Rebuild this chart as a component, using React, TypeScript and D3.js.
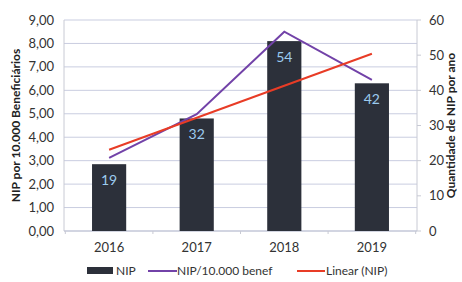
import React, { useRef, useEffect } from "react";
import { select, scaleLinear, scaleBand, line, range } from "d3";

const years = ["2016", "2017", "2018", "2019"];
const nipCount = [19, 32, 54, 42];
const nipPer10k = [3.12, 4.98, 8.5, 6.45];
const leftTicks = [0, 1, 2, 3, 4, 5, 6, 7, 8, 9];
const rightTicks = [0, 10, 20, 30, 40, 50, 60];

const FONT = "Lato, 'Open Sans', sans-serif";

const App: React.FC = () => {
  const ref = useRef<SVGSVGElement>(null);

  useEffect(() => {
    const svg = select(ref.current);
    svg.selectAll("*").remove();

    const width = 462,
      height = 282;
    const margin = { top: 20, right: 45, bottom: 51, left: 64 };
    const innerWidth = width - margin.left - margin.right;
    const innerHeight = height - margin.top - margin.bottom;

    const x = scaleBand().domain(years).range([0, innerWidth]).paddingInner(0.61).paddingOuter(0.32);
    const yLeft = scaleLinear().domain([0, 9]).range([innerHeight, 0]);
    const yRight = scaleLinear().domain([0, 60]).range([innerHeight, 0]);

    svg.append("rect").attr("width", width).attr("height", height).attr("fill", "#ffffff");

    const g = svg.append("g").attr("transform", `translate(${margin.left},${margin.top})`);

    // gridlines
    g.selectAll(".grid")
      .data(leftTicks)
      .enter()
      .append("line")
      .attr("x1", 0)
      .attr("x2", innerWidth)
      .attr("y1", (d) => yLeft(d))
      .attr("y2", (d) => yLeft(d))
      .attr("stroke", "#c9cde0")
      .attr("stroke-width", 1);

    // axis lines
    g.append("line").attr("x1", 0).attr("x2", 0).attr("y1", 0).attr("y2", innerHeight).attr("stroke", "#c8cad4");
    g.append("line").attr("x1", innerWidth).attr("x2", innerWidth).attr("y1", 0).attr("y2", innerHeight).attr("stroke", "#c8cad4");
    g.append("line").attr("x1", 0).attr("x2", innerWidth).attr("y1", innerHeight).attr("y2", innerHeight).attr("stroke", "#c0c4d4");

    // tick marks
    g.selectAll(".rtick")
      .data(rightTicks)
      .enter()
      .append("line")
      .attr("x1", innerWidth)
      .attr("x2", innerWidth + 4)
      .attr("y1", (d) => yRight(d))
      .attr("y2", (d) => yRight(d))
      .attr("stroke", "#c8cad4");
    const step = x.step();
    g.selectAll(".xtick")
      .data(range(years.length + 1))
      .enter()
      .append("line")
      .attr("x1", (i) => (x(years[0]) as number) - (step - x.bandwidth()) / 2 + i * step)
      .attr("x2", (i) => (x(years[0]) as number) - (step - x.bandwidth()) / 2 + i * step)
      .attr("y1", innerHeight)
      .attr("y2", innerHeight + 3)
      .attr("stroke", "#c8cad4");

    // left tick labels
    g.selectAll(".ltl")
      .data(leftTicks)
      .enter()
      .append("text")
      .attr("x", -10)
      .attr("y", (d) => yLeft(d))
      .attr("dy", "0.35em")
      .attr("text-anchor", "end")
      .attr("font-family", FONT)
      .attr("font-size", 13)
      .attr("fill", "#333")
      .text((d) => d.toFixed(2).replace(".", ","));

    // right tick labels
    g.selectAll(".rtl")
      .data(rightTicks)
      .enter()
      .append("text")
      .attr("x", innerWidth + 12)
      .attr("y", (d) => yRight(d))
      .attr("dy", "0.35em")
      .attr("font-family", FONT)
      .attr("font-size", 13)
      .attr("fill", "#333")
      .text((d) => d);

    // x labels
    g.selectAll(".xl")
      .data(years)
      .enter()
      .append("text")
      .attr("x", (d) => (x(d) as number) + x.bandwidth() / 2)
      .attr("y", innerHeight + 21)
      .attr("text-anchor", "middle")
      .attr("font-family", FONT)
      .attr("font-size", 13)
      .attr("fill", "#333")
      .text((d) => d);

    // bars
    g.selectAll(".bar")
      .data(nipCount)
      .enter()
      .append("rect")
      .attr("x", (_d, i) => x(years[i]) as number)
      .attr("y", (d) => yRight(d))
      .attr("width", x.bandwidth())
      .attr("height", (d) => innerHeight - yRight(d))
      .attr("fill", "#2c303a");

    g.selectAll(".blabel")
      .data(nipCount)
      .enter()
      .append("text")
      .attr("x", (_d, i) => (x(years[i]) as number) + x.bandwidth() / 2)
      .attr("y", (d) => yRight(d) + 21)
      .attr("text-anchor", "middle")
      .attr("font-family", FONT)
      .attr("font-size", 14)
      .attr("fill", "#9ccbef")
      .text((d) => d);

    // linear trend of NIP (least squares)
    const n = nipCount.length;
    const xs = range(1, n + 1);
    const mx = xs.reduce((a, b) => a + b, 0) / n;
    const my = nipCount.reduce((a, b) => a + b, 0) / n;
    let sxy = 0,
      sxx = 0;
    xs.forEach((xi, i) => {
      sxy += (xi - mx) * (nipCount[i] - my);
      sxx += (xi - mx) * (xi - mx);
    });
    const slope = sxy / sxx;
    const trend = xs.map((xi) => my + slope * (xi - mx));

    const cx = (i: number) => (x(years[i]) as number) + x.bandwidth() / 2;

    g.append("path")
      .datum(nipPer10k)
      .attr("fill", "none")
      .attr("stroke", "#7242a8")
      .attr("stroke-width", 2)
      .attr(
        "d",
        line<number>()
          .x((_d, i) => cx(i))
          .y((d) => yLeft(d))
      );

    g.append("path")
      .datum([trend[0], trend[n - 1]])
      .attr("fill", "none")
      .attr("stroke", "#e83c26")
      .attr("stroke-width", 2)
      .attr(
        "d",
        line<number>()
          .x((_d, i) => cx(i === 0 ? 0 : n - 1))
          .y((d) => yRight(d))
      );

    // axis titles
    svg
      .append("text")
      .attr("transform", `translate(20,${margin.top + innerHeight / 2}) rotate(-90)`)
      .attr("text-anchor", "middle")
      .attr("font-family", FONT)
      .attr("font-size", 12)
      .attr("font-weight", "bold")
      .attr("fill", "#222")
      .text("NIP por 10.000 Beneficiários");

    svg
      .append("text")
      .attr("transform", `translate(455,${margin.top + innerHeight / 2}) rotate(-90)`)
      .attr("text-anchor", "middle")
      .attr("font-family", FONT)
      .attr("font-size", 12)
      .attr("font-weight", "bold")
      .attr("fill", "#222")
      .text("Quantidade de NIP por ano");

    // legend
    const lg = svg.append("g").attr("transform", "translate(0,271)");
    lg.append("rect").attr("x", 87).attr("y", -4).attr("width", 26).attr("height", 7).attr("fill", "#2c303a");
    lg.append("text").attr("x", 116).attr("y", 0).attr("dy", "0.35em").attr("font-family", FONT).attr("font-size", 12).attr("fill", "#333").text("NIP");
    lg.append("line").attr("x1", 148).attr("x2", 177).attr("y1", 0).attr("y2", 0).attr("stroke", "#7242a8").attr("stroke-width", 2);
    lg.append("text").attr("x", 177).attr("y", 0).attr("dy", "0.35em").attr("font-family", FONT).attr("font-size", 12).attr("fill", "#333").text("NIP/10.000 benef");
    lg.append("line").attr("x1", 297).attr("x2", 325).attr("y1", 0).attr("y2", 0).attr("stroke", "#e83c26").attr("stroke-width", 2);
    lg.append("text").attr("x", 326).attr("y", 0).attr("dy", "0.35em").attr("font-family", FONT).attr("font-size", 12).attr("fill", "#333").text("Linear (NIP)");
  }, []);

  return <svg ref={ref} width={462} height={282} style={{ position: "absolute", left: 0, top: 0 }} />;
};

export default App;
